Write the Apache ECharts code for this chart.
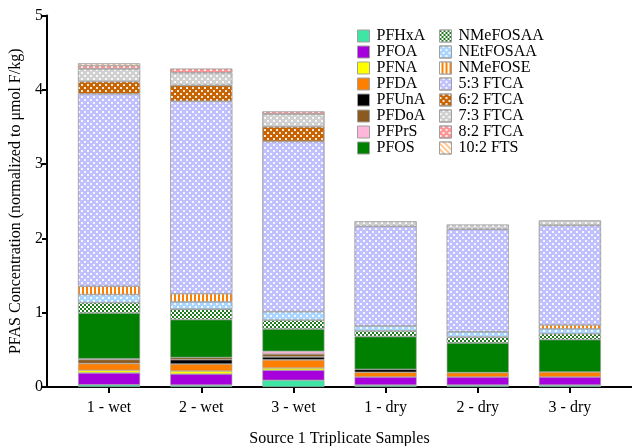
<!DOCTYPE html>
<html>
<head>
<meta charset="utf-8">
<script src="https://cdn.jsdelivr.net/npm/echarts@6/dist/echarts.min.js"></script>
<style>html,body{margin:0;padding:0;background:#fff}#c{width:632px;height:446px}</style>
</head>
<body>
<div id="c"></div>
<script>
const categories = ['1 - wet', '2 - wet', '3 - wet', '1 - dry', '2 - dry', '3 - dry'];
const yTicks = [0, 1, 2, 3, 4, 5];
const PFHxA    = [0.03, 0.025, 0.09, 0.025, 0.025, 0.025];
const PFOA     = [0.16, 0.15, 0.135, 0.11, 0.11, 0.11];
const PFNA     = [0.035, 0.04, 0.03, 0, 0, 0];
const PFDA     = [0.09, 0.094, 0.11, 0.063, 0.058, 0.067];
const PFUnA    = [0, 0.058, 0.04, 0.04, 0, 0];
const PFDoA    = [0.055, 0.03, 0.04, 0, 0, 0];
const PFPrS    = [0.01, 0, 0.035, 0, 0, 0];
const PFOS     = [0.615, 0.51, 0.30, 0.44, 0.40, 0.435];
const NMeFOSAA = [0.14, 0.14, 0.12, 0.077, 0.08, 0.08];
const NEtFOSAA = [0.11, 0.10, 0.115, 0.067, 0.07, 0.067];
const NMeFOSE  = [0.11, 0.108, 0, 0, 0, 0.05];
const FTCA53   = [2.59, 2.59, 2.29, 1.34, 1.38, 1.34];
const FTCA62   = [0.166, 0.215, 0.198, 0, 0, 0];
const FTCA73   = [0.17, 0.17, 0.17, 0.067, 0.062, 0.067];
const FTCA82   = [0.045, 0.054, 0.035, 0, 0, 0];
const FTS102   = [0.03, 0, 0, 0, 0, 0];

const seriesDefs = [
  ['PFHxA', PFHxA, '#3ee6a5', null],
  ['PFOA', PFOA, '#a600dc', null],
  ['PFNA', PFNA, '#ffff00', null],
  ['PFDA', PFDA, '#ff8000', null],
  ['PFUnA', PFUnA, '#000000', null],
  ['PFDoA', PFDoA, '#8b5a1e', null],
  ['PFPrS', PFPrS, '#ffb6d9', null],
  ['PFOS', PFOS, '#008000', null],
  ['NMeFOSAA', NMeFOSAA, '#1e7b1e', 'check'],
  ['NEtFOSAA', NEtFOSAA, '#a8d4ff', 'dots'],
  ['NMeFOSE', NMeFOSE, '#ff8000', 'vstripe'],
  ['5:3 FTCA', FTCA53, '#c0c0ff', 'dots'],
  ['6:2 FTCA', FTCA62, '#c86400', 'dots'],
  ['7:3 FTCA', FTCA73, '#d0d0d0', 'dots'],
  ['8:2 FTCA', FTCA82, '#ff9494', 'dots'],
  ['10:2 FTS', FTS102, '#ffc890', 'diag']
];

function makeDecal(kind) {
  if (kind === 'check') return {symbol: 'rect', color: '#ffffff', symbolSize: 1, dashArrayX: [[2, 2], [0, 2, 2, 0]], dashArrayY: [2, 0], rotation: 0};
  if (kind === 'dots') return {symbol: 'rect', color: 'rgba(255,255,255,0.85)', symbolSize: 1, dashArrayX: [[1.5, 3.5], [0, 2.5, 1.5, 1]], dashArrayY: [1.5, 1], rotation: 0};
  if (kind === 'vstripe') return {symbol: 'rect', color: '#ffffff', symbolSize: 1, dashArrayX: [2, 2], dashArrayY: [1, 0], rotation: 0};
  if (kind === 'diag') return {symbol: 'rect', color: '#ffffff', symbolSize: 1, dashArrayX: [2, 2], dashArrayY: [1, 0], rotation: -Math.PI / 4};
  return null;
}

const font = 'Liberation Serif';
const series = seriesDefs.map(([name, vals, color, kind]) => {
  const st = {color: color, borderColor: '#a0a0a0', borderWidth: 0.6};
  const d = makeDecal(kind);
  if (d) st.decal = d;
  return {
    name: name, type: 'bar', stack: 'total', barWidth: 62,
    xAxisIndex: 0, yAxisIndex: 0,
    data: vals.map(v => v === 0 ? null : v),
    itemStyle: st
  };
});

const names = seriesDefs.map(s => s[0]);
const legendCommon = {
  orient: 'vertical', itemWidth: 12, itemHeight: 12, itemGap: 0, icon: 'rect',
  textStyle: {fontFamily: font, fontSize: 16, color: '#000', padding: [0, 0, 0, 2]},
  itemStyle: {borderColor: '#a0a0a0', borderWidth: 1}
};

const chart = echarts.init(document.getElementById('c'), null, {renderer: 'canvas'});
chart.setOption({
  animation: false,
  backgroundColor: '#fff',
  legend: [
    Object.assign({left: 352, top: 23, data: names.slice(0, 8)}, legendCommon),
    Object.assign({left: 434, top: 23, data: names.slice(8)}, legendCommon)
  ],
  grid: [
    {left: 63, right: 16, top: 15.5, bottom: 59, outerBoundsMode: 'none', containLabel: false},
    {left: 47, right: 0, top: 15.5, bottom: 59, outerBoundsMode: 'none', containLabel: false}
  ],
  xAxis: [
    {
      type: 'category', gridIndex: 0, data: categories,
      axisLine: {show: false},
      axisTick: {show: true, alignWithLabel: true, length: 6, lineStyle: {color: '#000', width: 2}},
      axisLabel: {fontFamily: font, fontSize: 16, color: '#000', margin: 13}
    },
    {
      type: 'value', gridIndex: 1, min: 0, max: 1, position: 'bottom',
      axisLine: {show: true, onZero: false, lineStyle: {color: '#000', width: 2}},
      axisTick: {show: false}, axisLabel: {show: false}, splitLine: {show: false},
      name: 'Source 1 Triplicate Samples', nameLocation: 'middle', nameGap: 44,
      nameTextStyle: {fontFamily: font, fontSize: 16, color: '#000'}
    }
  ],
  yAxis: [
    {
      type: 'value', gridIndex: 0, min: yTicks[0], max: yTicks[yTicks.length - 1], interval: 1, offset: 16,
      axisLine: {show: true, lineStyle: {color: '#000', width: 2}},
      axisTick: {show: true, length: 5, lineStyle: {color: '#000', width: 2}},
      axisLabel: {fontFamily: font, fontSize: 16, color: '#000', margin: 4},
      splitLine: {show: false},
      name: 'PFAS Concentration (normalized to μmol F/kg)', nameLocation: 'middle', nameGap: 23,
      nameTextStyle: {fontFamily: font, fontSize: 16, color: '#000'}
    },
    {type: 'value', gridIndex: 1, show: false, min: 0, max: 1}
  ],
  series: series
});
</script>
</body>
</html>
